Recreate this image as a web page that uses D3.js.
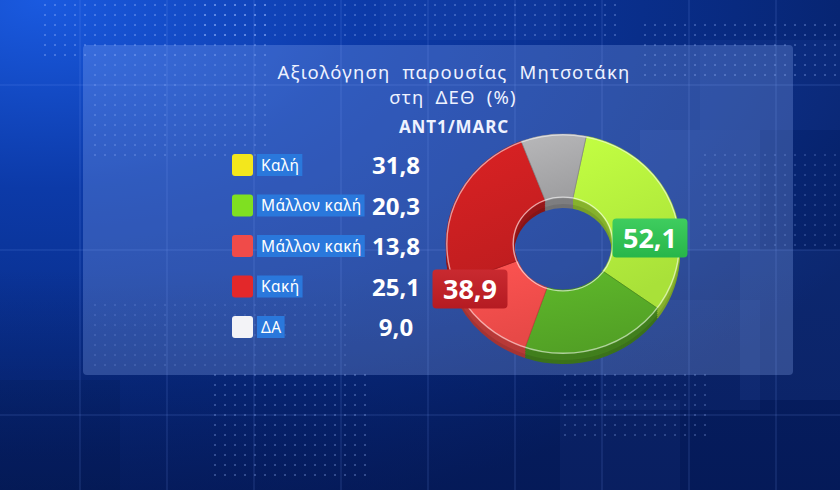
<!DOCTYPE html>
<html><head><meta charset="utf-8">
<script src="https://cdn.jsdelivr.net/npm/d3@7"></script>
<style>html,body{margin:0;padding:0;background:#0a2a8a;}svg{display:block;}</style>
</head><body>
<svg id="c" width="840" height="490"></svg>
<script>
const categories = ["Καλή", "Μάλλον καλή", "Μάλλον κακή", "Κακή", "ΔΑ"];
const values = [31.8, 20.3, 13.8, 25.1, 9.0];
const legendColors = ["#f3e71c", "#7fe021", "#f04b49", "#e3282a", "#f3f3f7"];
const sliceColors = ["#b2ed3c", "#57a927", "#f44d4b", "#c91f21", "#a8a8aa"];
const titleLines = ["Αξιολόγηση παρουσίας Μητσοτάκη", "στη ΔΕΘ (%)"];
const source = "ANT1/MARC";
const positiveIdx = [0, 1];
const negativeIdx = [2, 3];

(function () {
const W = 840, H = 490;
const svg = d3.select("#c");
const defs = svg.append("defs");
const fmt = v => d3.format(".1f")(v).replace(".", ",");

// ---- background ----
const bg = defs.append("radialGradient").attr("id", "bg").attr("cx", "0.05").attr("cy", "0.0").attr("r", "1.1");
bg.append("stop").attr("offset", "0").attr("stop-color", "#1a5ae0");
bg.append("stop").attr("offset", "0.35").attr("stop-color", "#0c3aa8");
bg.append("stop").attr("offset", "0.75").attr("stop-color", "#082a80");
bg.append("stop").attr("offset", "1").attr("stop-color", "#061f63");
svg.append("rect").attr("width", W).attr("height", H).attr("fill", "url(#bg)");
const bg2 = defs.append("linearGradient").attr("id", "bg2").attr("x1", 0).attr("y1", 0).attr("x2", 0).attr("y2", 1);
bg2.append("stop").attr("offset", "0.55").attr("stop-color", "#041650").attr("stop-opacity", 0);
bg2.append("stop").attr("offset", "1").attr("stop-color", "#041650").attr("stop-opacity", 0.55);
svg.append("rect").attr("width", W).attr("height", H).attr("fill", "url(#bg2)");

const blocks = [[640,130,120,120,0.07],[700,40,140,90,0.06],[600,300,160,110,0.05],[740,250,100,150,0.08],[560,400,120,90,0.05],[0,380,120,110,-0.1],[380,0,180,40,0.05]];
svg.selectAll("rect.blk").data(blocks).join("rect").attr("class","blk")
  .attr("x", d=>d[0]).attr("y", d=>d[1]).attr("width", d=>d[2]).attr("height", d=>d[3])
  .attr("fill", d=>d[4]>0?"#5d8cff":"#000820").attr("opacity", d=>Math.abs(d[4]));

const pat = defs.append("pattern").attr("id", "dots").attr("width", 10).attr("height", 10).attr("patternUnits", "userSpaceOnUse");
pat.append("rect").attr("x", 4).attr("y", 4).attr("width", 2).attr("height", 2).attr("fill", "#9fbcff");
const dotAreas = [[40,0,230,60,0.35],[200,0,420,40,0.3],[90,60,180,100,0.25],[210,370,160,110,0.3],[560,370,150,70,0.25],[640,20,200,60,0.3],[90,300,260,70,0.15],[700,150,140,100,0.2]];
svg.selectAll("rect.dot").data(dotAreas).join("rect").attr("class","dot")
  .attr("x", d=>d[0]).attr("y", d=>d[1]).attr("width", d=>d[2]).attr("height", d=>d[3])
  .attr("fill", "url(#dots)").attr("opacity", d=>d[4]);

const vx = d3.range(80, 840, 87);
const hy = [85, 250, 415];
svg.selectAll("line.v").data(vx).join("line").attr("class","v")
  .attr("x1", d=>d).attr("x2", d=>d).attr("y1", 0).attr("y2", H)
  .attr("stroke", "#7fa2ff").attr("stroke-opacity", 0.22).attr("stroke-width", 1);
svg.selectAll("line.h").data(hy).join("line").attr("class","h")
  .attr("y1", d=>d).attr("y2", d=>d).attr("x1", 0).attr("x2", W)
  .attr("stroke", "#7fa2ff").attr("stroke-opacity", 0.22).attr("stroke-width", 1);

svg.append("rect").attr("x", 83).attr("y", 45).attr("width", 710).attr("height", 330).attr("rx", 4)
  .attr("fill", "#9bb8ff").attr("fill-opacity", 0.26);

// ---- titles ----
const tg = svg.append("g").attr("font-family", "'Noto Sans', 'DejaVu Sans', sans-serif").attr("fill", "#eef2ff").attr("text-anchor", "middle");
tg.append("text").attr("x", 454).attr("y", 78.5).attr("font-size", 18.5)
  .attr("letter-spacing", 1.2).attr("word-spacing", 6).text(titleLines[0]);
tg.append("text").attr("x", 453).attr("y", 103.8).attr("font-size", 18.5)
  .attr("letter-spacing", 1.2).attr("word-spacing", 5).text(titleLines[1]);
tg.append("text").attr("x", 454).attr("y", 132.5).attr("font-size", 17).attr("font-weight", 700)
  .attr("letter-spacing", 0.9).text(source);

// ---- legend ----
const y = d3.scalePoint().domain(categories).range([165, 327]);
const lg = svg.append("g").attr("font-family", "'Noto Sans', 'DejaVu Sans', sans-serif");
const rows = lg.selectAll("g.row").data(categories).join("g").attr("class", "row")
  .attr("transform", d => `translate(0,${y(d)})`);
rows.append("rect").attr("x", 232).attr("y", -11).attr("width", 21).attr("height", 22).attr("rx", 3)
  .attr("fill", (d, i) => legendColors[i]);
rows.each(function(d, i) {
  const g = d3.select(this);
  const t = g.append("text").attr("x", 261).attr("y", 5.5).attr("font-size", 15.5).attr("letter-spacing", 0.4)
    .attr("fill", "#ffffff").text(d);
  const w = t.node().getComputedTextLength();
  g.insert("rect", "text").attr("x", 257).attr("y", -11).attr("width", w + 7).attr("height", 22)
    .attr("fill", "#2a78dc");
});
rows.append("text").attr("x", 396).attr("y", 9).attr("text-anchor", "middle")
  .attr("font-size", 24).attr("font-weight", 700).attr("fill", "#ffffff")
  .text((d, i) => fmt(values[i]));

// ---- donut ----
const cx = 563, cy = 244, sy = 0.94, R = 117, r0 = 49;
const pie = d3.pie().sort(null).startAngle(0.2).endAngle(0.2 + 2 * Math.PI);
const arcs = pie(values);
const arc = d3.arc().innerRadius(r0).outerRadius(R);

const depths = [10, 8, 6, 4, 2];
depths.forEach(dp => {
  const lgp = svg.append("g").attr("transform", `translate(${cx},${cy + dp}) scale(1,${sy})`);
  lgp.selectAll("path").data(arcs).join("path").attr("d", arc)
    .attr("fill", (d, i) => d3.color(sliceColors[i]).darker(dp > 6 ? 1.1 : 0.8));
});

sliceColors.forEach((c, i) => {
  const g = defs.append("linearGradient").attr("id", "sg" + i).attr("x1", 0).attr("y1", 0).attr("x2", 0.3).attr("y2", 1);
  g.append("stop").attr("offset", 0).attr("stop-color", d3.color(c).brighter(0.25));
  g.append("stop").attr("offset", 1).attr("stop-color", d3.color(c).darker(0.15));
});
const topG = svg.append("g").attr("transform", `translate(${cx},${cy}) scale(1,${sy})`);
topG.selectAll("path.s").data(arcs).join("path").attr("class", "s").attr("d", arc)
  .attr("fill", (d, i) => `url(#sg${i})`)
  .attr("stroke", (d, i) => d3.color(sliceColors[i]).darker(0.6)).attr("stroke-width", 0.8);
topG.append("circle").attr("r", R - 0.8).attr("fill", "none").attr("stroke", "#ffffff").attr("stroke-opacity", 0.55).attr("stroke-width", 1.4);
topG.append("circle").attr("r", r0 + 0.8).attr("fill", "none").attr("stroke", "#ffffff").attr("stroke-opacity", 0.6).attr("stroke-width", 1.4);

// ---- summary labels ----
const posSum = d3.sum(positiveIdx, i => values[i]);
const negSum = d3.sum(negativeIdx, i => values[i]);
const badges = [
  { text: fmt(posSum), x: cx + 87, y: cy - 6, fill: "#27b64a", hi: "#3fcd5f" },
  { text: fmt(negSum), x: cx - 93, y: cy + 45, fill: "#b51b22", hi: "#c92a30" }
];
badges.forEach((b, k) => {
  const gr = defs.append("linearGradient").attr("id", "bd" + k).attr("x1", 0).attr("y1", 0).attr("x2", 0).attr("y2", 1);
  gr.append("stop").attr("offset", 0).attr("stop-color", b.hi);
  gr.append("stop").attr("offset", 1).attr("stop-color", b.fill);
  const g = svg.append("g").attr("transform", `translate(${b.x},${b.y})`);
  g.append("rect").attr("x", -37.5).attr("y", -19.5).attr("width", 75).attr("height", 39).attr("rx", 4)
    .attr("fill", `url(#bd${k})`);
  g.append("text").attr("text-anchor", "middle").attr("y", 10).attr("font-family", "'Noto Sans', 'DejaVu Sans', sans-serif")
    .attr("font-size", 27).attr("font-weight", 700).attr("fill", "#ffffff").text(b.text);
});
})();
</script>
</body></html>
